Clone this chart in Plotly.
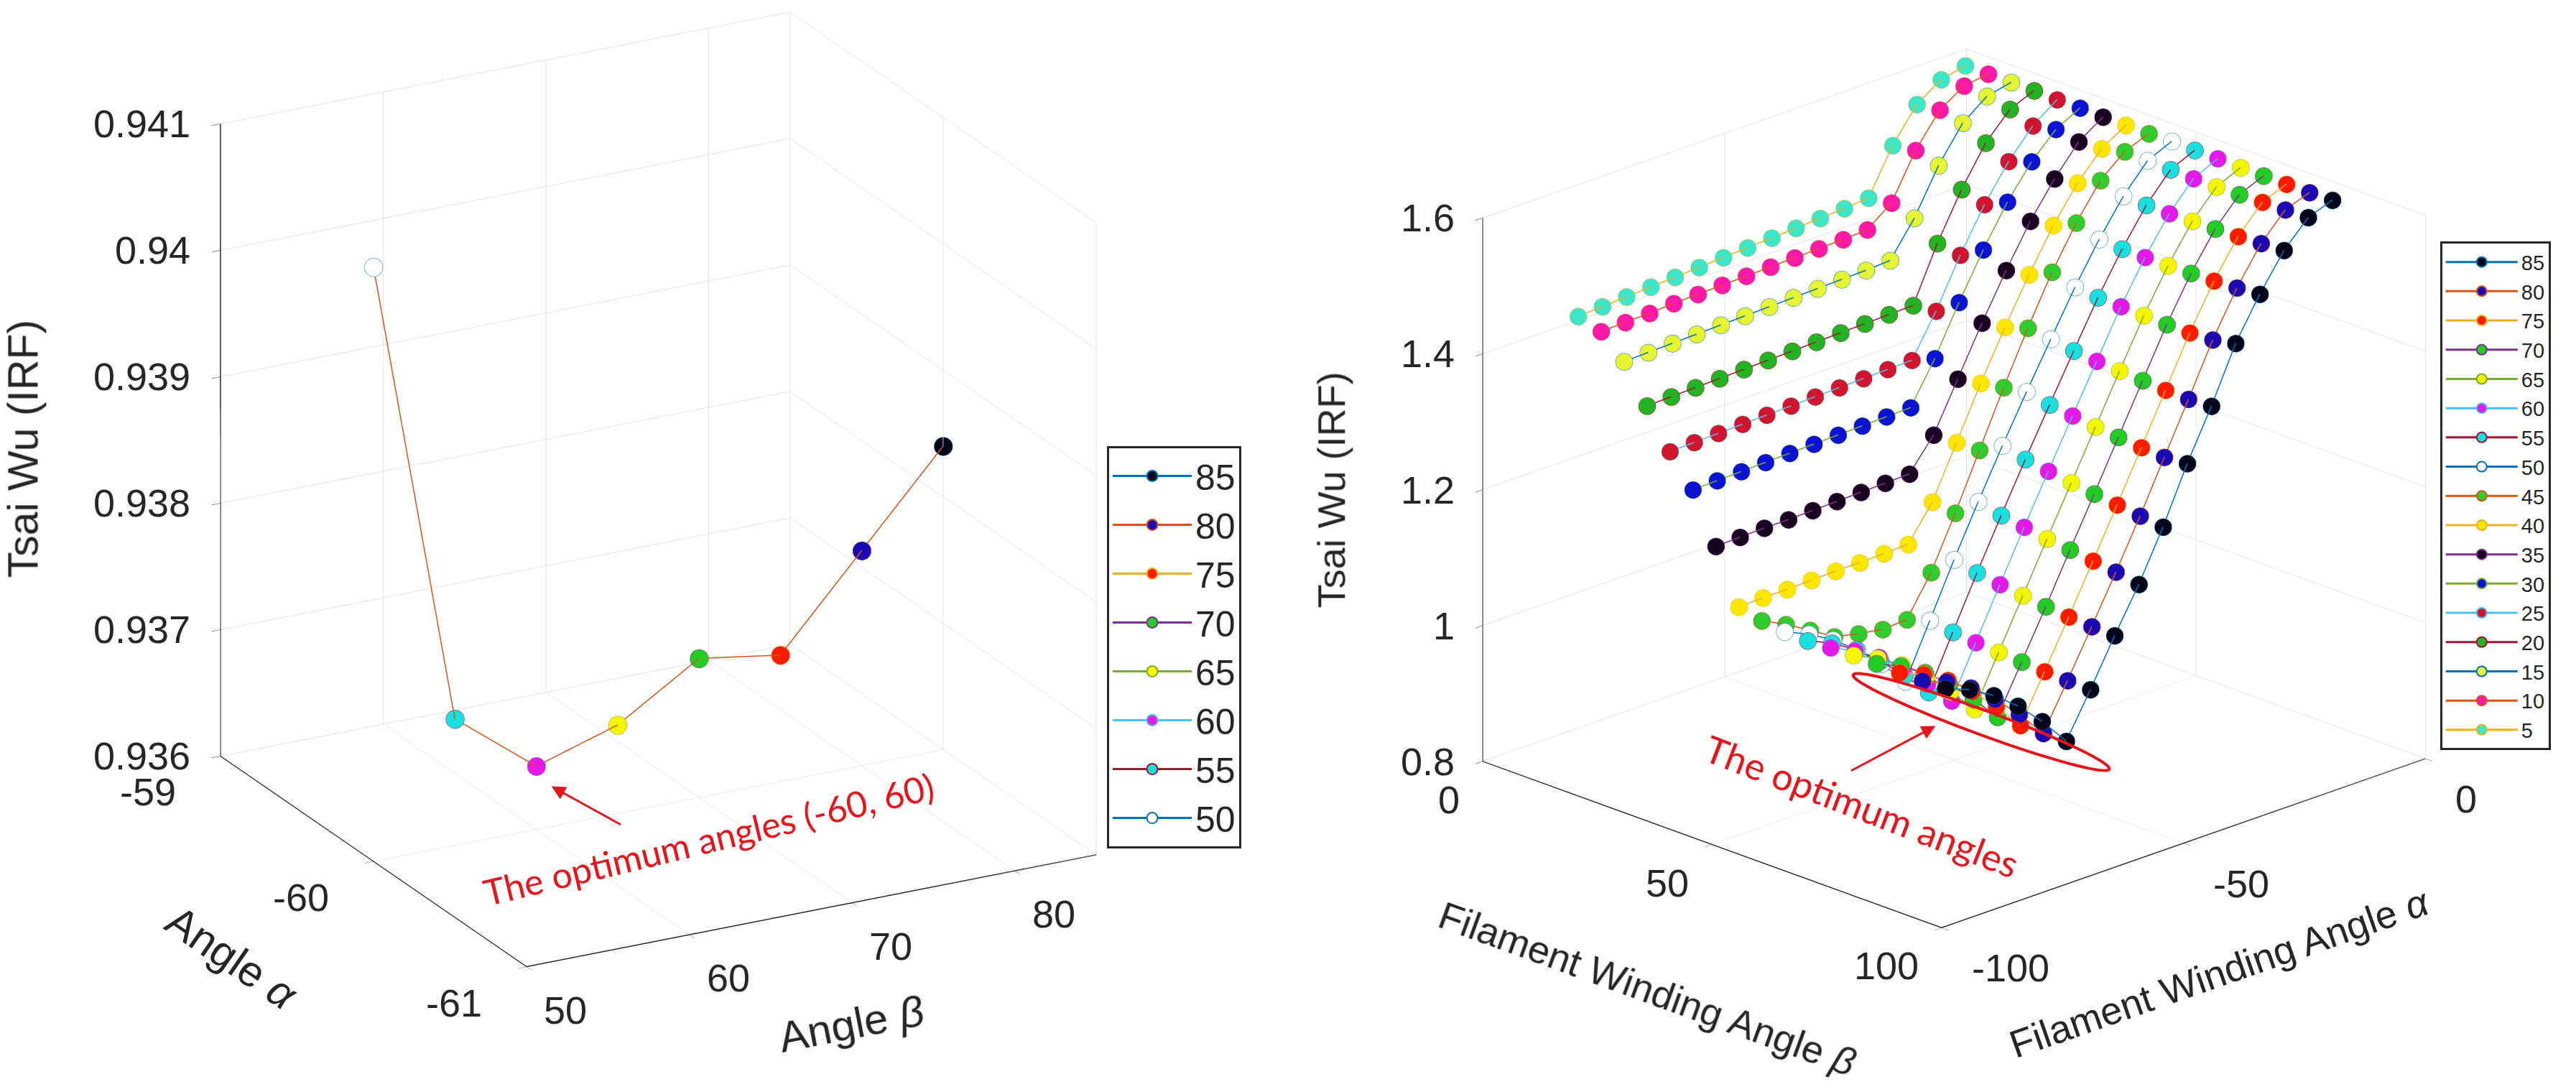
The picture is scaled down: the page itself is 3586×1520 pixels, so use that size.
import numpy as np
import plotly.graph_objects as go

# ---------------- data: left plot (slice at alpha = -60) ----------------
beta_opt = [85, 80, 75, 70, 65, 60, 55, 50]
alpha_opt = [-60, -60, -60, -60, -60, -60, -60, -60]
tw_opt = [0.9384, 0.9377, 0.9370, 0.9371, 0.9367, 0.9365, 0.9370, 0.9407]

# tick labels, left plot
beta_ticks_l = [50, 60, 70, 80]
alpha_ticks_l = [-61, -60, -59]
tw_ticks_l = [0.936, 0.937, 0.938, 0.939, 0.940, 0.941]
tw_labels_l = ['0.936', '0.937', '0.938', '0.939', '0.94', '0.941']

# ---------------- data: right plot (full sweep) ----------------
alpha_sweep = [-85, -80, -75, -70, -65, -60, -55, -50, -45, -40, -35, -30, -25, -20, -15, -10, -5]
beta_sweep = [85, 80, 75, 70, 65, 60, 55, 50, 45, 40, 35, 30, 25, 20, 15, 10, 5]

tw_b85 = [1.078, 1.064, 1.043, 1.015, 0.980, 0.9384, 1.002, 1.069, 1.132, 1.204, 1.285, 1.357, 1.437, 1.497, 1.549, 1.585, 1.598]
tw_b80 = [1.077, 1.063, 1.042, 1.013, 0.978, 0.9377, 1.003, 1.070, 1.138, 1.208, 1.282, 1.355, 1.430, 1.494, 1.547, 1.584, 1.597]
tw_b75 = [1.077, 1.062, 1.041, 1.012, 0.977, 0.9370, 1.004, 1.072, 1.142, 1.212, 1.284, 1.356, 1.428, 1.492, 1.545, 1.583, 1.597]
tw_b70 = [1.078, 1.062, 1.040, 1.011, 0.976, 0.9371, 1.006, 1.075, 1.146, 1.216, 1.287, 1.358, 1.428, 1.491, 1.544, 1.582, 1.597]
tw_b65 = [1.078, 1.061, 1.039, 1.010, 0.975, 0.9367, 1.008, 1.079, 1.150, 1.220, 1.290, 1.360, 1.429, 1.490, 1.543, 1.581, 1.597]
tw_b60 = [1.077, 1.060, 1.038, 1.009, 0.974, 0.9365, 1.010, 1.083, 1.155, 1.225, 1.294, 1.362, 1.430, 1.490, 1.542, 1.581, 1.598]
tw_b55 = [1.075, 1.059, 1.037, 1.008, 0.974, 0.9370, 1.013, 1.088, 1.160, 1.230, 1.298, 1.365, 1.431, 1.490, 1.542, 1.582, 1.598]
tw_b50 = [1.076, 1.060, 1.039, 1.012, 0.979, 0.9407, 1.018, 1.095, 1.168, 1.238, 1.305, 1.370, 1.434, 1.492, 1.543, 1.583, 1.599]
tw_b45 = [1.080, 1.062, 1.041, 1.019, 1.011, 1.005, 1.007, 1.064, 1.139, 1.219, 1.299, 1.374, 1.444, 1.504, 1.554, 1.584, 1.598]
tw_b40 = [1.088, 1.089, 1.089, 1.090, 1.091, 1.091, 1.092, 1.093, 1.143, 1.218, 1.293, 1.363, 1.428, 1.488, 1.538, 1.576, 1.598]
tw_b35 = [1.165, 1.166, 1.167, 1.167, 1.168, 1.169, 1.170, 1.171, 1.172, 1.217, 1.287, 1.357, 1.422, 1.482, 1.532, 1.574, 1.598]
tw_b30 = [1.236, 1.237, 1.238, 1.239, 1.240, 1.241, 1.242, 1.243, 1.244, 1.245, 1.305, 1.375, 1.440, 1.498, 1.545, 1.580, 1.599]
tw_b25 = [1.280, 1.281, 1.282, 1.283, 1.284, 1.285, 1.286, 1.287, 1.288, 1.289, 1.290, 1.350, 1.420, 1.482, 1.533, 1.573, 1.599]
tw_b20 = [1.335, 1.336, 1.337, 1.338, 1.339, 1.340, 1.341, 1.342, 1.343, 1.344, 1.345, 1.346, 1.425, 1.492, 1.548, 1.585, 1.600]
tw_b15 = [1.388, 1.389, 1.390, 1.391, 1.392, 1.393, 1.394, 1.395, 1.396, 1.397, 1.398, 1.400, 1.450, 1.515, 1.565, 1.592, 1.600]
tw_b10 = [1.420, 1.421, 1.422, 1.424, 1.425, 1.426, 1.427, 1.428, 1.429, 1.430, 1.431, 1.433, 1.460, 1.525, 1.572, 1.595, 1.600]
tw_b5 = [1.430, 1.432, 1.434, 1.436, 1.438, 1.440, 1.442, 1.444, 1.446, 1.448, 1.450, 1.452, 1.455, 1.520, 1.568, 1.592, 1.600]

tw_sweep = [tw_b85, tw_b80, tw_b75, tw_b70, tw_b65, tw_b60, tw_b55, tw_b50, tw_b45,
            tw_b40, tw_b35, tw_b30, tw_b25, tw_b20, tw_b15, tw_b10, tw_b5]

# tick labels, right plot
beta_ticks_r = [0, 50, 100]
alpha_ticks_r = [-100, -50, 0]
tw_ticks_r = [0.8, 1.0, 1.2, 1.4, 1.6]
tw_labels_r = ['0.8', '1', '1.2', '1.4', '1.6']

# MATLAB default line colour order, cycled per series
matlab_order = ['#0072BD', '#D95319', '#EDB120', '#7E2F8E', '#77AC30', '#4DBEEE', '#A2142F']
face_colors = ['#05051a', '#1a0ab4', '#ff1a00', '#22cc22', '#f5f500', '#e619e6', '#19e0e0', '#ffffff',
               '#2ecc2e', '#ffe600', '#1a0520', '#0a14d2', '#d2142d', '#23b423', '#e6f532', '#ff19aa', '#3ce6c8']

FONT = 'Liberation Sans, Arial, sans-serif'
AX = '#262626'
RED = '#e8141b'

fig = go.Figure()

# left plot: one marker per beta, plus the connecting curve
fig.add_trace(go.Scatter3d(x=beta_opt, y=alpha_opt, z=tw_opt, mode='lines',
                           line=dict(color='#D95319', width=3), showlegend=False,
                           hoverinfo='skip', scene='scene'))
for i, b in enumerate(beta_opt):
    fig.add_trace(go.Scatter3d(
        x=[b], y=[alpha_opt[i]], z=[tw_opt[i]], mode='lines+markers', name=str(b),
        line=dict(color=matlab_order[i % 7], width=3),
        marker=dict(size=15, color=face_colors[i], line=dict(color=matlab_order[i % 7], width=2)),
        scene='scene', legend='legend'))

# right plot: one line per beta along alpha
for i, b in enumerate(beta_sweep):
    fig.add_trace(go.Scatter3d(
        x=[b] * len(alpha_sweep), y=alpha_sweep, z=tw_sweep[i], mode='lines+markers', name=str(b),
        line=dict(color=matlab_order[i % 7], width=3),
        marker=dict(size=14, color=face_colors[i], line=dict(color=matlab_order[i % 7], width=2)),
        scene='scene2', legend='legend2'))


def axis(rng, vals):
    # gl3d tick labels/titles cannot be offset, so they are drawn as scene annotations below
    return dict(title=dict(text=''), range=rng, tickvals=vals, autorange=False,
                showticklabels=False, showbackground=False, gridcolor='#e3e3e3', gridwidth=2,
                showline=True, linecolor=AX, linewidth=3, zeroline=False,
                ticks='outside', ticklen=14, tickcolor=AX, showspikes=False)


def label(x, y, z, text, size, xs=0, ys=0, xa='center', angle=0, color=AX, family=FONT):
    return dict(x=x, y=y, z=z, text=text, showarrow=False, xanchor=xa, yanchor='middle',
                xshift=xs, yshift=ys, textangle=angle,
                font=dict(family=family, size=size, color=color))


def red_arrow(x, y, z, xs, ys, ax, ay):
    return dict(x=x, y=y, z=z, text='', showarrow=True, arrowcolor=RED, arrowhead=2,
                arrowsize=1.3, arrowwidth=3, ax=ax, ay=ay, xshift=xs, yshift=ys, standoff=0)


ann_l = []
for v, t in zip(tw_ticks_l, tw_labels_l):
    ann_l.append(label(50, -59, v, t, 54, xs=-40, xa='right'))
for v in alpha_ticks_l:
    ann_l.append(label(50, v, 0.936, str(v), 54, xs=-60, ys=-50, xa='right'))
for v in beta_ticks_l:
    ann_l.append(label(v, -61, 0.936, str(v), 54, xs=22, ys=-60, xa='left'))
ann_l.append(label(50, -59, 0.9385, 'Tsai Wu (IRF)', 59, xs=-274, ys=-12, angle=-90))
ann_l.append(label(50, -60, 0.936, 'Angle <i>α</i>', 60, xs=-197, ys=-134, angle=34.5))
ann_l.append(label(67.5, -61, 0.936, 'Angle <i>β</i>', 60, xs=55, ys=-158, angle=-11))
ann_l.append(label(60, -60, 0.93646, 'The optimum angles (-60, 60)', 50, xs=240, ys=-94,
                   angle=-13.5, color=RED, family='Lato, sans-serif'))
ann_l.append(red_arrow(60, -60, 0.93646, 21, -21, 98, 54))

ann_r = []
for v, t in zip(tw_ticks_r, tw_labels_r):
    ann_r.append(label(0, -100, v, t, 54, xs=-37, xa='right'))
for v in beta_ticks_r:
    ann_r.append(label(v, -100, 0.8, str(v), 54, xs=-30, ys=-53, xa='right'))
for v in alpha_ticks_r:
    ann_r.append(label(100, v, 0.8, str(v), 54, xs=40, ys=-56, xa='left'))
ann_r.append(label(0, -100, 1.2, 'Tsai Wu (IRF)', 54, xs=-211, angle=-90))
ann_r.append(label(50, -100, 0.8, 'Filament Winding Angle <i>β</i>', 54, xs=-90, ys=-200, angle=20))
ann_r.append(label(100, -50, 0.8, 'Filament Winding Angle <i>α</i>', 54, xs=50, ys=-180, angle=-19.3))
ann_r.append(label(60, -60, 0.9365, 'The optimum angles', 52, xs=-124, ys=-146,
                   angle=21, color=RED, family='Lato, sans-serif'))
ann_r.append(red_arrow(60, -60, 0.9365, -22, -35, -119, 63))

fig.update_layout(
    width=3586, height=1520, margin=dict(l=0, r=0, t=0, b=0),
    paper_bgcolor='white', font=dict(family=FONT, color=AX),
    scene=dict(
        domain=dict(x=[0.0, 0.5], y=[0.0, 1.0]),
        xaxis=axis([50, 85], beta_ticks_l),
        yaxis=axis([-61, -59], alpha_ticks_l),
        zaxis=axis([0.936, 0.941], tw_ticks_l),
        aspectmode='manual', aspectratio=dict(x=1.183, y=1.19, z=1.245),
        camera=dict(eye=dict(x=-0.739, y=-1.350, z=0.485), up=dict(x=0, y=0, z=1),
                    center=dict(x=-0.0336, y=-0.0295, z=-0.1063),
                    projection=dict(type='orthographic')),
        annotations=ann_l,
    ),
    scene2=dict(
        domain=dict(x=[0.5, 0.96], y=[0.0, 1.0]),
        xaxis=axis([0, 100], beta_ticks_r),
        yaxis=axis([-100, 0], alpha_ticks_r),
        zaxis=axis([0.8, 1.6], tw_ticks_r),
        aspectmode='manual', aspectratio=dict(x=1.20, y=1.242, z=1.065),
        camera=dict(eye=dict(x=1.1965, y=-1.3482, z=0.5603), up=dict(x=0, y=0, z=1),
                    center=dict(x=-0.0575, y=-0.1172, z=-0.1087),
                    projection=dict(type='orthographic')),
        annotations=ann_r,
    ),
    legend=dict(x=0.4275, y=0.597, xanchor='left', yanchor='top', bgcolor='white',
                bordercolor=AX, borderwidth=3, font=dict(family=FONT, size=50, color=AX),
                itemwidth=110),
    legend2=dict(x=0.945, y=0.784, xanchor='left', yanchor='top', bgcolor='white',
                 bordercolor=AX, borderwidth=3, font=dict(family=FONT, size=29, color=AX),
                 itemwidth=100),
)

# red ellipse around the optimum row (drawn in pixel space, converted to paper units)
t = np.linspace(0, 2 * np.pi, 80)
cx, cy, ra, rb, ang = 2750, 997, 190, 17, np.radians(20.2)
ex = cx + ra * np.cos(t) * np.cos(ang) - rb * np.sin(t) * np.sin(ang)
ey = cy + ra * np.cos(t) * np.sin(ang) + rb * np.sin(t) * np.cos(ang)
path = 'M ' + ' L '.join(f'{x / 3586:.5f},{1 - y / 1520:.5f}' for x, y in zip(ex, ey)) + ' Z'
fig.add_shape(type='path', path=path, xref='paper', yref='paper',
              line=dict(color=RED, width=4), layer='above')

fig.write_html('out.html')
